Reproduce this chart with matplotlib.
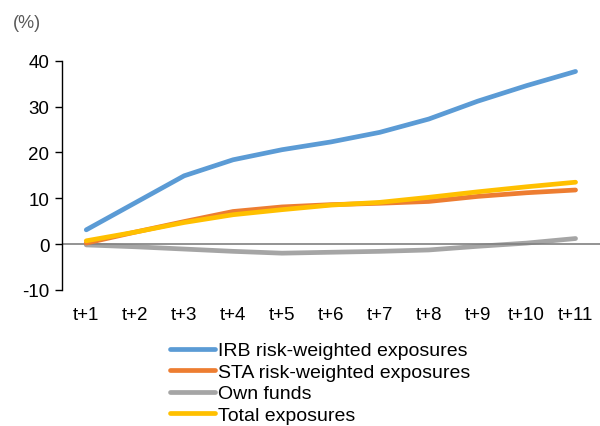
import matplotlib
matplotlib.use("Agg")
import matplotlib.pyplot as plt

plt.rcParams['font.family'] = ['Liberation Sans', 'DejaVu Sans']
plt.rcParams['axes.unicode_minus'] = False

periods = ["t+1", "t+2", "t+3", "t+4", "t+5", "t+6", "t+7", "t+8", "t+9", "t+10", "t+11"]
irb_rwa = [3.1, 9.0, 14.9, 18.4, 20.6, 22.3, 24.4, 27.3, 31.2, 34.6, 37.7]
sta_rwa = [0.2, 2.6, 4.9, 7.1, 8.1, 8.6, 8.9, 9.3, 10.4, 11.2, 11.8]
own_funds = [-0.2, -0.6, -1.1, -1.6, -2.0, -1.8, -1.6, -1.3, -0.5, 0.2, 1.2]
total_exp = [0.7, 2.6, 4.7, 6.4, 7.5, 8.5, 9.1, 10.2, 11.4, 12.5, 13.5]

fig = plt.figure(figsize=(6.0, 4.27), dpi=100)
ax = fig.add_axes([0.103, 0.319, 0.897, 0.536])

x = list(range(len(periods)))
lw = 3.4
ax.plot(x, irb_rwa, color="#5B9BD5", lw=lw, solid_capstyle="round", label="IRB risk-weighted exposures", zorder=3)
ax.plot(x, sta_rwa, color="#ED7D31", lw=lw, solid_capstyle="round", label="STA risk-weighted exposures", zorder=3)
ax.plot(x, own_funds, color="#A5A5A5", lw=lw, solid_capstyle="round", label="Own funds", zorder=2)
ax.plot(x, total_exp, color="#FFC000", lw=lw, solid_capstyle="round", label="Total exposures", zorder=4)
ax.axhline(0, color="#808080", lw=1.2, zorder=2.5)

ax.set_xlim(-0.5, len(periods) - 0.5)
ax.set_ylim(-10, 40)
ax.set_yticks([-10, 0, 10, 20, 30, 40])
ax.set_xticks(x)
ax.set_xticklabels(periods)
ax.tick_params(axis="x", length=0, pad=12, labelsize=13.5)
ax.tick_params(axis="y", length=5, width=1, direction="out", pad=4, labelsize=13.5)
for s in ("top", "right", "bottom"):
    ax.spines[s].set_visible(False)
ax.spines["left"].set_color("black")
ax.spines["left"].set_linewidth(1)

fig.text(0.022, 0.945, "(%)", fontsize=13, color="#595959", va="center", ha="left")

fig.legend(loc="upper left", bbox_to_anchor=(0.283, 0.197), frameon=False,
           fontsize=14, handlelength=2.3, handletextpad=0.2, labelspacing=0.2,
           borderaxespad=0, borderpad=0)

fig.savefig("out.png", dpi=100, facecolor="white")
